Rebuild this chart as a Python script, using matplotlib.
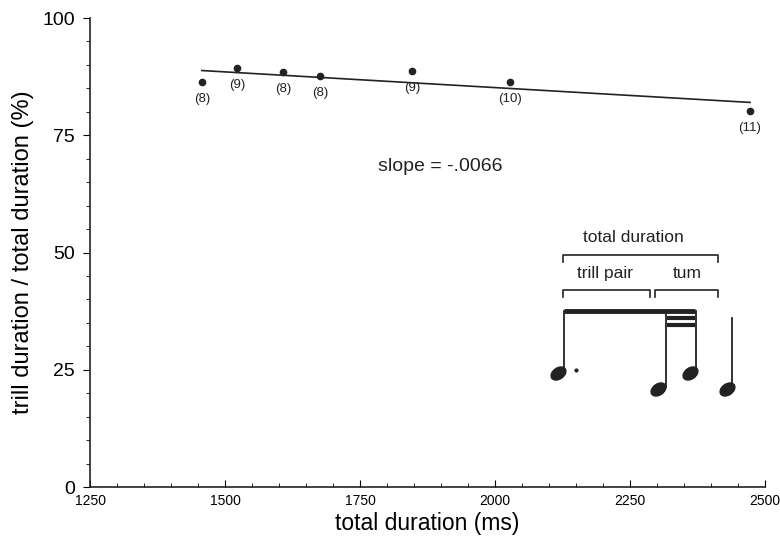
import matplotlib
matplotlib.use("Agg")
import matplotlib.pyplot as plt
import numpy as np
from matplotlib.path import Path
from matplotlib.transforms import Affine2D
from matplotlib.ticker import MultipleLocator

plt.rcParams['font.family'] = ['Liberation Sans', 'DejaVu Sans']

# Data
total_duration = [1457, 1522, 1607, 1676, 1846, 2028, 2472]
trill_ratio = [86.4, 89.3, 88.5, 87.6, 88.7, 86.4, 80.2]
n_labels = ["(8)", "(9)", "(8)", "(8)", "(9)", "(10)", "(11)"]
fit_x = [1457, 2472]
fit_y = [88.8, 82.0]
x_ticks = [1250, 1500, 1750, 2000, 2250, 2500]
y_ticks = [0, 25, 50, 75, 100]

fig = plt.figure(figsize=(7.8, 5.36), dpi=100)
ax = fig.add_axes([0.1154, 0.0914, 0.8656, 0.875])

ax.plot(fit_x, fit_y, color='#222222', lw=1.2)
ax.plot(total_duration, trill_ratio, 'o', color='#222222', ms=4.5)
for x, y, lab in zip(total_duration, trill_ratio, n_labels):
    ax.annotate(lab, (x, y), xytext=(0, -8), textcoords='offset points',
                ha='center', va='top', fontsize=9.5, color='#222222')

ax.text(1898, 68.4, "slope = -.0066", ha='center', va='center', fontsize=14, color='#222222')

ax.set_xlim(1250, 2500)
ax.set_ylim(0, 100)
ax.set_xticks(x_ticks)
ax.set_yticks(y_ticks)
ax.xaxis.set_minor_locator(MultipleLocator(50))
ax.yaxis.set_minor_locator(MultipleLocator(5))
ax.tick_params(axis='x', which='major', direction='in', length=5, labelsize=10, pad=5)
ax.tick_params(axis='x', which='minor', direction='in', length=3)
ax.tick_params(axis='y', which='major', direction='out', length=5, labelsize=14, pad=6)
ax.tick_params(axis='y', which='minor', direction='out', length=3)
for s in ['top', 'right']:
    ax.spines[s].set_visible(False)
for s in ['left', 'bottom']:
    ax.spines[s].set_color('#222222')
    ax.spines[s].set_linewidth(1.2)
ax.set_xlabel("total duration (ms)", fontsize=16.5, labelpad=3)
ax.set_ylabel("trill duration / total duration (%)", fontsize=17, labelpad=6)

# Inset: musical notation diagram
k = '#222222'
def bracket(x0, x1, y, dy=1.5):
    ax.plot([x0, x0, x1, x1], [y - dy, y, y, y - dy], color=k, lw=1.2)

bracket(2126, 2413, 49.5)
ax.text(2256, 53.3, "total duration", ha='center', va='center', fontsize=12.5, color=k)
bracket(2126, 2287, 42.0)
bracket(2296, 2413, 42.0)
ax.text(2204, 45.6, "trill pair", ha='center', va='center', fontsize=12.5, color=k)
ax.text(2356, 45.6, "tum", ha='center', va='center', fontsize=12.5, color=k)

# beams
ax.plot([2128, 2370], [37.5, 37.5], color=k, lw=3.5, solid_capstyle='butt')
ax.plot([2319, 2370], [36.0, 36.0], color=k, lw=3.0, solid_capstyle='butt')
ax.plot([2319, 2370], [34.5, 34.5], color=k, lw=3.0, solid_capstyle='butt')
# stems
ax.plot([2128, 2128], [37.5, 25.0], color=k, lw=1.3)
ax.plot([2317, 2317], [37.5, 21.3], color=k, lw=1.3)
ax.plot([2372, 2372], [37.5, 25.0], color=k, lw=1.3)
ax.plot([2439, 2439], [36.0, 21.3], color=k, lw=1.3)
# noteheads
circ = Path.unit_circle()
head = Path(Affine2D().scale(1.0, 0.68).rotate_deg(35).transform(circ.vertices), circ.codes)
ax.plot([2117, 2302, 2361, 2430], [24.4, 20.8, 24.4, 20.8], linestyle='none',
        marker=head, ms=11, color=k)
ax.plot([2150], [24.9], 'o', ms=2, color=k)

fig.savefig("out.png", dpi=100)
